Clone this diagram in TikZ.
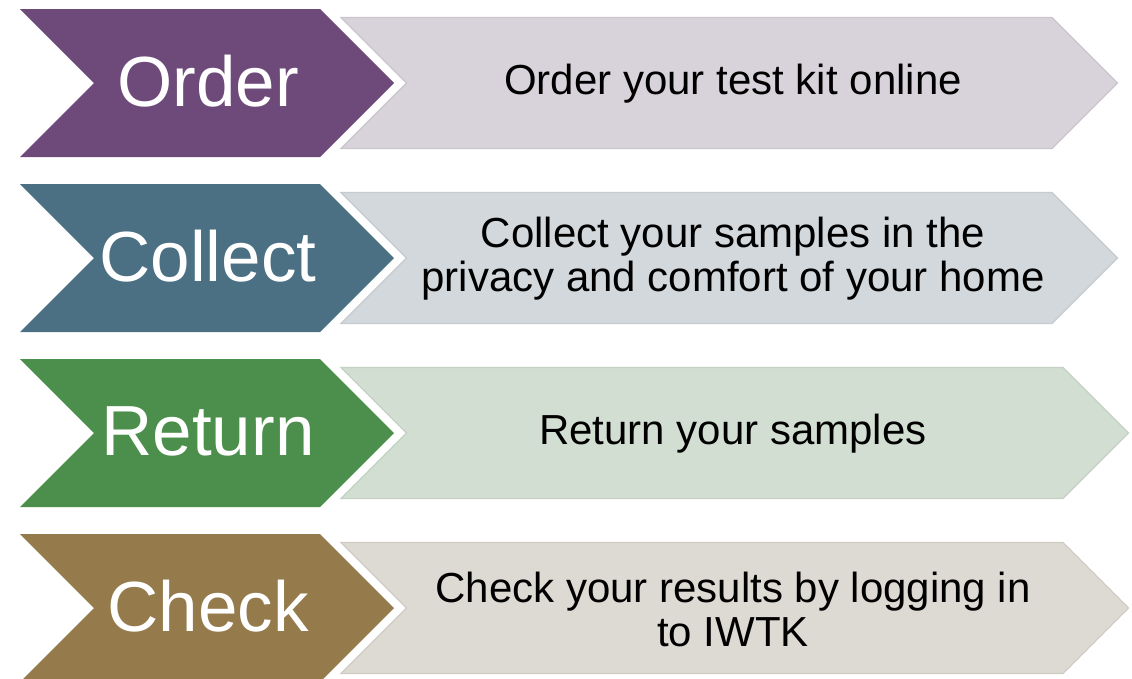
\documentclass[tikz,border=0pt]{standalone}
\usepackage{fontspec}
\setmainfont{Liberation Sans}
\definecolor{orderc}{HTML}{6E4A7B}
\definecolor{orderbg}{HTML}{D8D3DA}
\definecolor{collectc}{HTML}{4B7084}
\definecolor{collectbg}{HTML}{D2D8DC}
\definecolor{returnc}{HTML}{4C8E4B}
\definecolor{returnbg}{HTML}{D3DED3}
\definecolor{checkc}{HTML}{957B4B}
\definecolor{checkbg}{HTML}{DDD9D3}
\tikzset{
  labeltext/.style={text=white, font=\fontsize{71}{77}\selectfont, inner sep=0pt},
  desctext/.style={text=black, font=\fontsize{42}{44}\selectfont, align=center, inner sep=0pt},
}
% one process row: #1 name, #2 centre y, #3 chevron colour, #4 band colour,
% #5 band right corner x, #6 label, #7 description
\newcommand{\procrow}[7]{%
  \fill[#4, draw=#4!94!black, line width=1.2pt]
    (341,#2-65.5) -- (#5,#2-65.5) -- (#5+65.5,#2) -- (#5,#2+65.5)
    -- (341,#2+65.5) -- (406.5,#2) -- cycle;
  \fill[#3] (20,#2-74) -- (320,#2-74) -- (394,#2) -- (320,#2+74)
    -- (20,#2+74) -- (94,#2) -- cycle;
  \node[labeltext] (#1-label) at (208,#2-2) {#6};
  \node[desctext] (#1-desc) at (733,#2+1) {#7};
}
\begin{document}
\begin{tikzpicture}[x=1pt, y=-1pt]
  \useasboundingbox (0,0) rectangle (1132,678);
  \fill[white] (0,0) rectangle (1132,678);
  \procrow{order}{83}{orderc}{orderbg}{1052}{Order}{Order your test kit online}
  \procrow{collect}{258}{collectc}{collectbg}{1052}{Collect}{Collect your samples in the\\privacy and comfort of your home}
  \procrow{return}{433}{returnc}{returnbg}{1063}{Return}{Return your samples}
  \procrow{check}{608}{checkc}{checkbg}{1063}{Check}{Check your results by logging in\\to IWTK}
\end{tikzpicture}
\end{document}
